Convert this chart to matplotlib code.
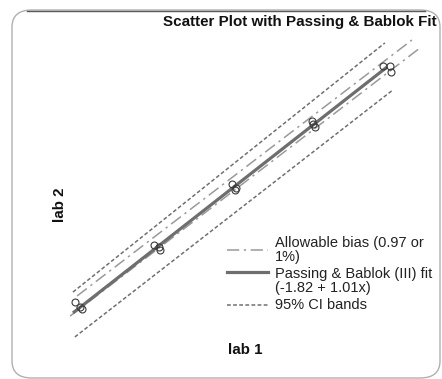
import matplotlib.pyplot as plt
from matplotlib.patches import FancyBboxPatch
from matplotlib.lines import Line2D

plt.rcParams['font.family'] = ['Liberation Sans', 'DejaVu Sans']

# measurements (lab 1 vs lab 2), 5 levels x 3 replicates
lab1 = [0.9, 2.5, 3.1, 25.8, 27.4, 27.7, 50.3, 51.3, 51.6, 75.5, 76.4, 75.8, 97.8, 100.0, 100.3]
lab2 = [2.3, 0.2, -0.6, 25.8, 25.0, 23.7, 50.9, 48.4, 49.3, 76.8, 74.4, 75.6, 99.6, 99.6, 97.1]

# Passing & Bablok fit line (-1.82 + 1.01x)
fit_x = [0.3, 99.1]
fit_y = [-2.2, 99.2]

# 95% CI bands
ci_up_x = [0.3, 98.4]
ci_up_y = [6.4, 109.1]
ci_lo_x = [0.9, 100.9]
ci_lo_y = [-12.1, 89.7]

# allowable bias lines
bias_up_x = [1.6, 106.9]
bias_up_y = [4.8, 110.3]
bias_lo_x = [-0.6, 109.4]
bias_lo_y = [-3.5, 107.0]

legend_labels = ["Allowable bias (0.97 or\n1%)", "Passing & Bablok (III) fit\n(-1.82 + 1.01x)", "95% CI bands"]

fit_col = '#6e6e6e'
bias_col = '#9a9a9a'
ci_col = '#707070'

fig = plt.figure(figsize=(4.42, 3.79), dpi=100)
fig.patch.set_facecolor('white')

# rounded chart border
box = FancyBboxPatch((12 / 442, 1 - 378 / 379), 428 / 442, 368 / 379,
                     boxstyle="round,pad=0,rounding_size=0.045",
                     transform=fig.transFigure, facecolor='none',
                     edgecolor='#b0b0b0', linewidth=1.0)
fig.patches.append(box)
fig.add_artist(Line2D([27 / 442, 425 / 442], [1 - 10.5 / 379, 1 - 10.5 / 379],
                      color='#5a5a5a', linewidth=1.0, transform=fig.transFigure))

ax = fig.add_axes([0, 0, 1, 1])
ax.set_xlim(-22.64, 116.35)
ax.set_ylim(-29.43, 126.79)
ax.axis('off')

ax.plot(bias_up_x, bias_up_y, color=bias_col, lw=1.1, linestyle=(0, (8, 3, 1.5, 3)))
ax.plot(bias_lo_x, bias_lo_y, color=bias_col, lw=1.1, linestyle=(0, (8, 3, 1.5, 3)))
ax.plot(ci_up_x, ci_up_y, color=ci_col, lw=1.1, linestyle=(0, (2.5, 1.5)))
ax.plot(ci_lo_x, ci_lo_y, color=ci_col, lw=1.1, linestyle=(0, (2.5, 1.5)))
ax.plot(fit_x, fit_y, color=fit_col, lw=2.3, solid_capstyle='butt')
ax.plot(lab1, lab2, 'o', markersize=5, markerfacecolor='none',
        markeredgecolor='#3a3a3a', markeredgewidth=0.8)

# legend drawn by hand
def fx(px):
    return px / 442

def fy(py):
    return 1 - py / 379

fig.add_artist(Line2D([fx(227), fx(268)], [fy(250), fy(250)], color=bias_col, lw=1.1,
                      linestyle=(0, (8, 3, 1.5, 3)), transform=fig.transFigure))
fig.add_artist(Line2D([fx(227), fx(268)], [fy(272), fy(272)], color=fit_col, lw=2.3,
                      transform=fig.transFigure))
fig.add_artist(Line2D([fx(227), fx(268)], [fy(305), fy(305)], color=ci_col, lw=1.1,
                      linestyle=(0, (2.5, 1.5)), transform=fig.transFigure))
for txt, py in zip(legend_labels, [250, 281, 305]):
    fig.text(fx(275), fy(py), txt, fontsize=10.5, color='#222222', va='center',
             ha='left', linespacing=1.05)

fig.text(fx(437), fy(22), "Scatter Plot with Passing & Bablok Fit", fontsize=10.9,
         fontweight='bold', ha='right', va='center', color='#111111')
fig.text(fx(60), fy(205), "lab 2", fontsize=10.9, fontweight='bold', rotation=90,
         ha='center', va='center', color='#111111')
fig.text(fx(245), fy(350), "lab 1", fontsize=10.9, fontweight='bold',
         ha='center', va='center', color='#111111')

fig.savefig('out.png', dpi=100)
